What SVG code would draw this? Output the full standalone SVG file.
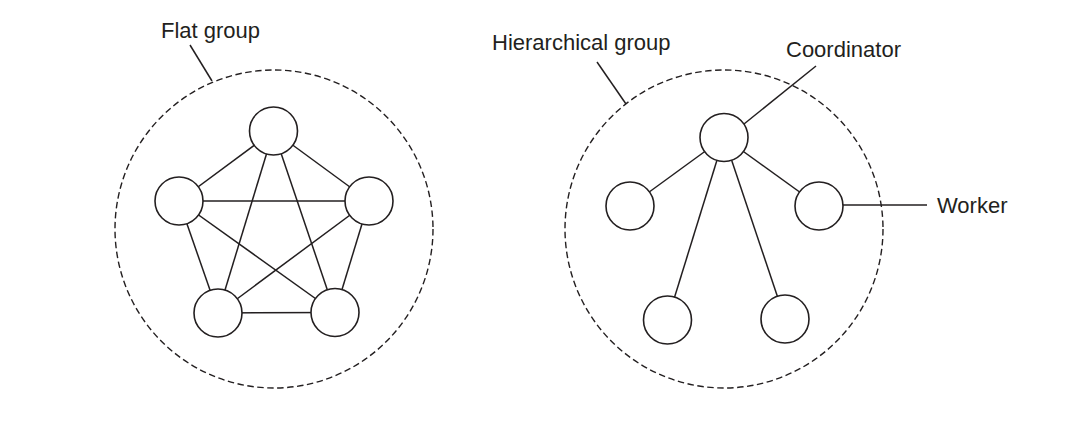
<svg xmlns="http://www.w3.org/2000/svg" width="1089" height="422" viewBox="0 0 1089 422">
  <style>
    .boundary { fill: none; stroke: #231f20; stroke-width: 1.4; stroke-dasharray: 6.5 3.5; }
    .node { fill: #ffffff; stroke: #231f20; stroke-width: 1.6; }
    .edge { stroke: #231f20; stroke-width: 1.5; fill: none; }
    .leader { stroke: #231f20; stroke-width: 1.5; fill: none; }
    .label { font-family: "Liberation Sans", Arial, sans-serif; font-size: 22px; fill: #231f20; }
  </style>
  <rect width="1089" height="422" fill="#ffffff"/>

  <!-- Flat group: every member linked to every other -->
  <g id="flat-group">
    <circle class="boundary" cx="274" cy="229" r="159"/>
    <line class="leader" x1="190" y1="45" x2="212" y2="81"/>
    <text class="label" x="161" y="38">Flat group</text>
  </g>
  <g id="flat-connectors">
    <line class="edge" x1="273.5" y1="131" x2="179" y2="201"/>
    <line class="edge" x1="273.5" y1="131" x2="369" y2="201"/>
    <line class="edge" x1="273.5" y1="131" x2="218" y2="313"/>
    <line class="edge" x1="273.5" y1="131" x2="335" y2="312.5"/>
    <line class="edge" x1="179" y1="201" x2="369" y2="201"/>
    <line class="edge" x1="179" y1="201" x2="218" y2="313"/>
    <line class="edge" x1="179" y1="201" x2="335" y2="312.5"/>
    <line class="edge" x1="369" y1="201" x2="218" y2="313"/>
    <line class="edge" x1="369" y1="201" x2="335" y2="312.5"/>
    <line class="edge" x1="218" y1="313" x2="335" y2="312.5"/>
  </g>
  <g id="flat-top"><circle class="node" cx="273.5" cy="131" r="24"/></g>
  <g id="flat-left"><circle class="node" cx="179" cy="201" r="24"/></g>
  <g id="flat-right"><circle class="node" cx="369" cy="201" r="24"/></g>
  <g id="flat-bottom-left"><circle class="node" cx="218" cy="313" r="24"/></g>
  <g id="flat-bottom-right"><circle class="node" cx="335" cy="312.5" r="24"/></g>

  <!-- Hierarchical group: one coordinator, four workers -->
  <g id="hierarchical-group">
    <circle class="boundary" cx="724" cy="229" r="159"/>
    <line class="leader" x1="597" y1="62" x2="626" y2="104"/>
    <text class="label" x="492" y="50">Hierarchical group</text>
  </g>
  <g id="hierarchical-connectors">
    <line class="edge" x1="724" y1="137.5" x2="630" y2="206"/>
    <line class="edge" x1="724" y1="137.5" x2="819" y2="206"/>
    <line class="edge" x1="724" y1="137.5" x2="667.5" y2="320"/>
    <line class="edge" x1="724" y1="137.5" x2="785" y2="319"/>
  </g>
  <g id="coordinator">
    <circle class="node" cx="724" cy="137.5" r="24"/>
    <line class="leader" x1="744" y1="124" x2="816" y2="66"/>
    <text class="label" x="786" y="57">Coordinator</text>
  </g>
  <g id="worker-left"><circle class="node" cx="630" cy="206" r="24"/></g>
  <g id="worker-right">
    <circle class="node" cx="819" cy="206" r="24"/>
    <line class="leader" x1="843" y1="205" x2="927" y2="205"/>
    <text class="label" x="937" y="213">Worker</text>
  </g>
  <g id="worker-bottom-left"><circle class="node" cx="667.5" cy="320" r="24"/></g>
  <g id="worker-bottom-right"><circle class="node" cx="785" cy="319" r="24"/></g>
</svg>
